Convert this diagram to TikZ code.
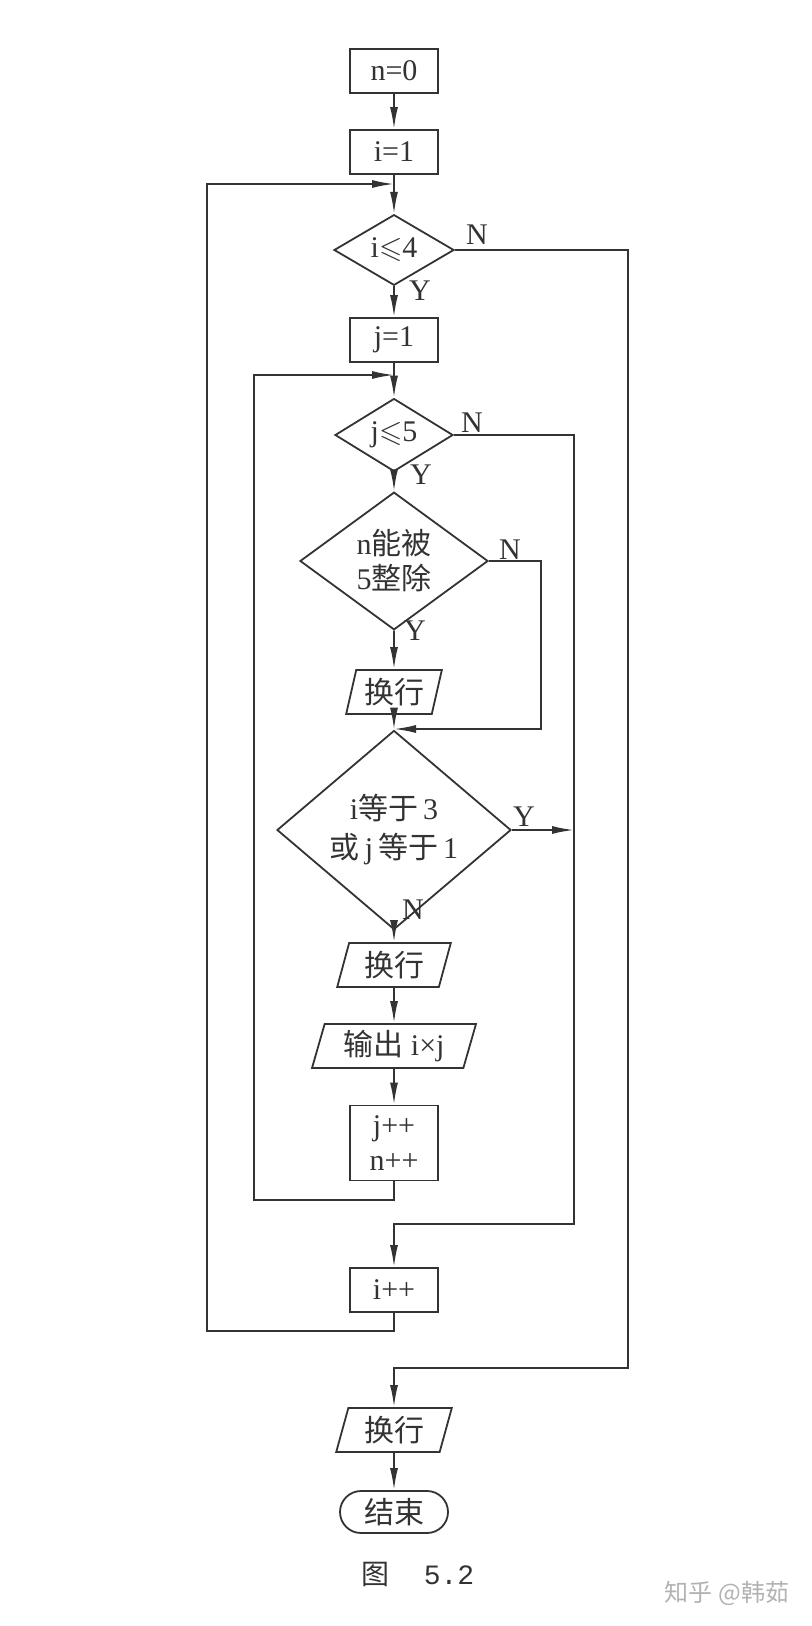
\documentclass[tikz,border=0pt]{standalone}
\usepackage{amssymb}
\usepackage{fontspec}
\setmainfont{Liberation Serif}
\setmonofont{Liberation Mono}
\newfontfamily\cjk{Noto Sans CJK SC}
\usepackage{xcolor}
\usetikzlibrary{shapes.geometric, arrows.meta, positioning}
\definecolor{ink}{HTML}{333333}

\begin{document}
\begin{tikzpicture}[
    x=0.5pt, y=-0.5pt,
    font=\fontsize{15}{17.5}\selectfont,
    every node/.style={text=ink},
    proc/.style={draw=ink, line width=0.9pt, minimum width=44pt, minimum height=22pt,
                 align=center, inner sep=1pt},
    cond/.style={draw=ink, line width=0.9pt, diamond, align=center, inner sep=0pt},
    io/.style={draw=ink, line width=0.9pt, trapezium, trapezium left angle=75,
               trapezium right angle=105, trapezium stretches=true,
               minimum height=22pt, inner sep=1pt, align=center},
    term/.style={draw=ink, line width=0.9pt, rounded corners=10.5pt, minimum width=54pt,
                 minimum height=21pt, inner sep=1pt},
    arr/.style={-{Latex[length=11pt,width=4pt]}, draw=ink, line width=0.9pt},
    yn/.style={inner sep=0pt}
]
\useasboundingbox (0,0) rectangle (812,1626);

% Main vertical spine
\node[proc] (n0)  at (394,71)   {n=0};
\node[proc] (i1)  at (394,152)  {i=1};
\node[cond, minimum width=60pt, minimum height=29pt] (ci) at (394,250) {i$\leqslant$4};
\node[proc] (j1)  at (394,340)  {j=1};
\node[cond, minimum width=59pt, minimum height=30pt] (cj) at (394,435) {j$\leqslant$5};
\node[cond, minimum width=94pt, minimum height=52pt] (cn) at (394,561)
    {n{\cjk 能被}\\5{\cjk 整除}};
\node[io, minimum width=48pt] (nl1) at (394,692) {\cjk 换行};
\node[cond, minimum width=117pt, minimum height=63pt] (cij) at (394,830)
    {i{\cjk 等于}\,3\\[2pt]{\cjk 或}\,j\,{\cjk 等于}\,1};
\node[io, minimum width=57pt] (nl2) at (394,965)  {\cjk 换行};
\node[io, minimum width=82pt] (out) at (394,1046) {{\cjk 输出} i×j};
\node[proc, minimum height=37.5pt] (inc) at (394,1143) {j++\\n++};
\node[proc] (ii)  at (394,1290) {i++};
\node[io, minimum width=58pt] (nl3) at (394,1430) {\cjk 换行};
\node[term] (fin) at (394,1512) {\cjk 结束};

% Caption and mark
\node[font=\fontsize{14}{17}\selectfont] (cap) at (418,1574) {{\cjk 图}\hspace{17pt}{\ttfamily 5.2}};
\node[text=black!30, font=\cjk\fontsize{12}{14}\selectfont] (mark) at (727,1593) {知乎 @韩茹};

% Corner points
\coordinate (iout)  at (628,1368);
\coordinate (jout)  at (574,1224);
\coordinate (nskip) at (541,729);
\coordinate (jn)    at (394,729);
\coordinate (jloop) at (254,1200);
\coordinate (jin)   at (394,375);
\coordinate (iloop) at (207,1331);
\coordinate (iin)   at (394,184);

% Straight flow
\draw[arr] (n0) -- (i1);
\draw[arr] (i1) -- (ci);
\draw[arr] (ci) -- (j1);
\draw[arr] (j1) -- (cj);
\draw[arr] (cj) -- (cn);
\draw[arr] (cn) -- (nl1);
\draw[arr] (nl1) -- (cij);
\draw[arr] (cij) -- (nl2);
\draw[arr] (nl2) -- (out);
\draw[arr] (out) -- (inc);
\draw[arr] (nl3) -- (fin);

% Branches to the right
\draw[arr] (ci.east) -| (iout) -| (nl3.north);
\draw[arr] (cj.east) -| (jout) -| (ii.north);
\draw[arr] (cn.east) -| (nskip) -- (jn);
\draw[arr] (cij.east) -- (cij.east -| jout);

% Loops back on the left
\draw[arr] (inc.south) |- (jloop) |- (jin);
\draw[arr] (ii.south) |- (iloop) |- (iin);

% Branch labels
\node[yn] (ciN)  at (477,235) {N};
\node[yn] (ciY)  at (420,291) {Y};
\node[yn] (cjN)  at (472,423) {N};
\node[yn] (cjY)  at (421,475) {Y};
\node[yn] (cnN)  at (510,550) {N};
\node[yn] (cnY)  at (415,631) {Y};
\node[yn] (cijY) at (524,817) {Y};
\node[yn] (cijN) at (413,910) {N};

\end{tikzpicture}
\end{document}
